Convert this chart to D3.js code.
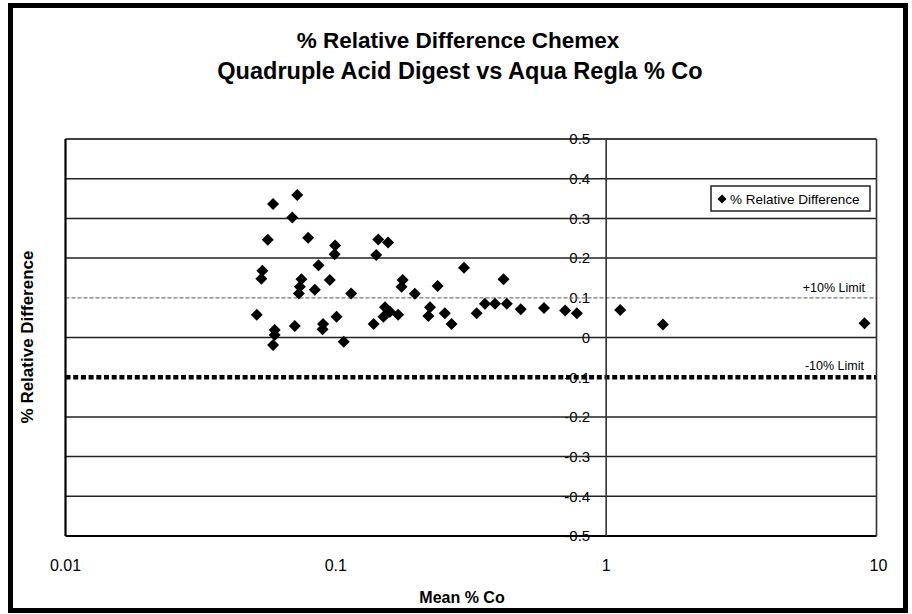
<!DOCTYPE html>
<html>
<head>
<meta charset="utf-8">
<script src="https://cdn.jsdelivr.net/npm/d3@7"></script>
<style>
body{margin:0;background:#fff;}
text{font-family:"Liberation Sans",Arial,Helvetica,sans-serif;fill:#000;}
</style>
</head>
<body>
<div id="container"></div>
<script>
// mean % Co (x) and relative difference (y)
const meanCo = [0.051,0.053,0.0535,0.056,0.0586,0.0594,0.0594,0.0586,0.069,0.0705,
  0.072,0.073,0.0736,0.0746,0.079,0.0836,0.0863,0.0893,0.0897,0.095,
  0.099,0.0994,0.1006,0.107,0.114,0.138,0.141,0.1435,0.150,0.152,
  0.156,0.1585,0.170,0.175,0.1766,0.196,0.220,0.223,0.238,0.253,
  0.268,0.298,0.332,0.356,0.388,0.417,0.429,0.483,0.589,0.705,
  0.779,1.127,1.622,9.03]
const relDiff = [0.057,0.148,0.168,0.246,0.336,0.019,0.006,-0.019,0.302,0.029,
  0.359,0.111,0.128,0.147,0.251,0.120,0.182,0.021,0.034,0.145,
  0.210,0.232,0.052,-0.011,0.111,0.034,0.208,0.247,0.052,0.076,
  0.239,0.065,0.057,0.128,0.145,0.110,0.054,0.076,0.130,0.061,
  0.034,0.176,0.061,0.085,0.085,0.147,0.085,0.071,0.074,0.068,
  0.061,0.069,0.033,0.036]

const xTicks = [0.01,0.1,1,10]
const xTickLabels = ["0.01","0.1","1","10"]
const yTicks = [-0.5,-0.4,-0.3,-0.2,-0.1,0,0.1,0.2,0.3,0.4,0.5]
const yTickLabels = ["-0.5","-0.4","-0.3","-0.2","-0.1","0","0.1","0.2","0.3","0.4","0.5"]
const upperLimit = 0.1
const lowerLimit = -0.1

const title1 = "% Relative Difference Chemex"
const title2 = "Quadruple Acid Digest vs Aqua Regla % Co"
const xTitle = "Mean % Co"
const yTitle = "% Relative Difference"
const legendLabel = "% Relative Difference"

const width = 912
const height = 614

const x = d3.scaleLog().domain([0.01,10]).range([65.5,876.5])
const y = d3.scaleLinear().domain([-0.5,0.5]).range([536,139])

const svg = d3.select("#container").append("svg")
              .attr("width",width)
              .attr("height",height)

// outer frame
svg.append("rect")
   .attr("x",10.5).attr("y",5.5)
   .attr("width",895).attr("height",605)
   .attr("fill","none").attr("stroke","#000").attr("stroke-width",5)

// titles
svg.append("text").attr("x",458).attr("y",48)
   .attr("text-anchor","middle").attr("font-size",22.5).attr("font-weight","bold")
   .text(title1)
svg.append("text").attr("x",460).attr("y",79)
   .attr("text-anchor","middle").attr("font-size",23.5).attr("font-weight","bold")
   .text(title2)

// y tick labels sit left of the x=1 line, gridlines run through them
const yAxis = svg.append("g")
   .attr("transform",`translate(${x(1)},0)`)
   .call(d3.axisLeft(y).tickValues(yTicks).tickSize(0).tickPadding(16)
          .tickFormat((d,i)=>yTickLabels[i]))
yAxis.select(".domain").remove()
yAxis.selectAll("text").attr("font-size",15).attr("fill","#000")

// solid gridlines (limits drawn separately)
svg.append("g")
   .selectAll("line")
   .data(yTicks.filter(t=>t!==upperLimit && t!==lowerLimit))
   .enter()
   .append("line")
   .attr("x1",x.range()[0]).attr("x2",x.range()[1])
   .attr("y1",d=>y(d)).attr("y2",d=>y(d))
   .attr("stroke",d=>(d===0.5||d===-0.5)?"#000":"#222")
   .attr("stroke-width",d=>(d===-0.5)?2:1.5)

// +10% limit, thin grey dashes
svg.append("line")
   .attr("x1",x.range()[0]).attr("x2",x.range()[1])
   .attr("y1",y(upperLimit)).attr("y2",y(upperLimit))
   .attr("stroke","#777").attr("stroke-width",1.3)
   .attr("stroke-dasharray","4,2")

// -10% limit, heavy dotted
svg.append("line")
   .attr("x1",x.range()[0]).attr("x2",x.range()[1])
   .attr("y1",y(lowerLimit)).attr("y2",y(lowerLimit))
   .attr("stroke","#000").attr("stroke-width",4.5)
   .attr("stroke-dasharray","5,2.7")

// vertical lines: left border, y axis at 1, right border
svg.append("g")
   .selectAll("line")
   .data([0.01,1,10])
   .enter()
   .append("line")
   .attr("x1",d=>x(d)).attr("x2",d=>x(d))
   .attr("y1",y(0.5)).attr("y2",y(-0.5))
   .attr("stroke",d=>d===0.01?"#000":"#333")
   .attr("stroke-width",d=>d===0.01?2.2:1.6)

// x tick labels
svg.append("g")
   .selectAll("text")
   .data(xTicks)
   .enter()
   .append("text")
   .attr("x",d=>x(d)+(d===10?2:0))
   .attr("y",571)
   .attr("text-anchor","middle")
   .attr("font-size",16)
   .text((d,i)=>xTickLabels[i])

// axis titles
svg.append("text").attr("x",462).attr("y",603)
   .attr("text-anchor","middle").attr("font-size",16).attr("font-weight","bold")
   .text(xTitle)
svg.append("text")
   .attr("transform","translate(33,337) rotate(-90)")
   .attr("text-anchor","middle").attr("font-size",17).attr("font-weight","bold")
   .text(yTitle)

// limit labels
svg.append("text").attr("x",865).attr("y",y(upperLimit)-6)
   .attr("text-anchor","end").attr("font-size",12.5)
   .text("+10% Limit")
svg.append("text").attr("x",864).attr("y",y(lowerLimit)-7)
   .attr("text-anchor","end").attr("font-size",12.5)
   .text("-10% Limit")

// points
const diamond = d3.symbol().type(d3.symbolSquare).size(72)
svg.append("g")
   .selectAll("path")
   .data(meanCo)
   .enter()
   .append("path")
   .attr("d",diamond)
   .attr("transform",(d,i)=>`translate(${x(d)},${y(relDiff[i])}) rotate(45)`)
   .attr("fill","#000")

// legend
const legend = svg.append("g").attr("transform","translate(711,186)")
legend.append("rect")
   .attr("width",159).attr("height",25)
   .attr("fill","#fff").attr("stroke","#222").attr("stroke-width",1.5)
legend.append("path")
   .attr("d",d3.symbol().type(d3.symbolSquare).size(40))
   .attr("transform","translate(11,13) rotate(45)")
   .attr("fill","#000")
legend.append("text")
   .attr("x",19).attr("y",17.5)
   .attr("font-size",13.5)
   .text(legendLabel)
</script>
</body>
</html>
